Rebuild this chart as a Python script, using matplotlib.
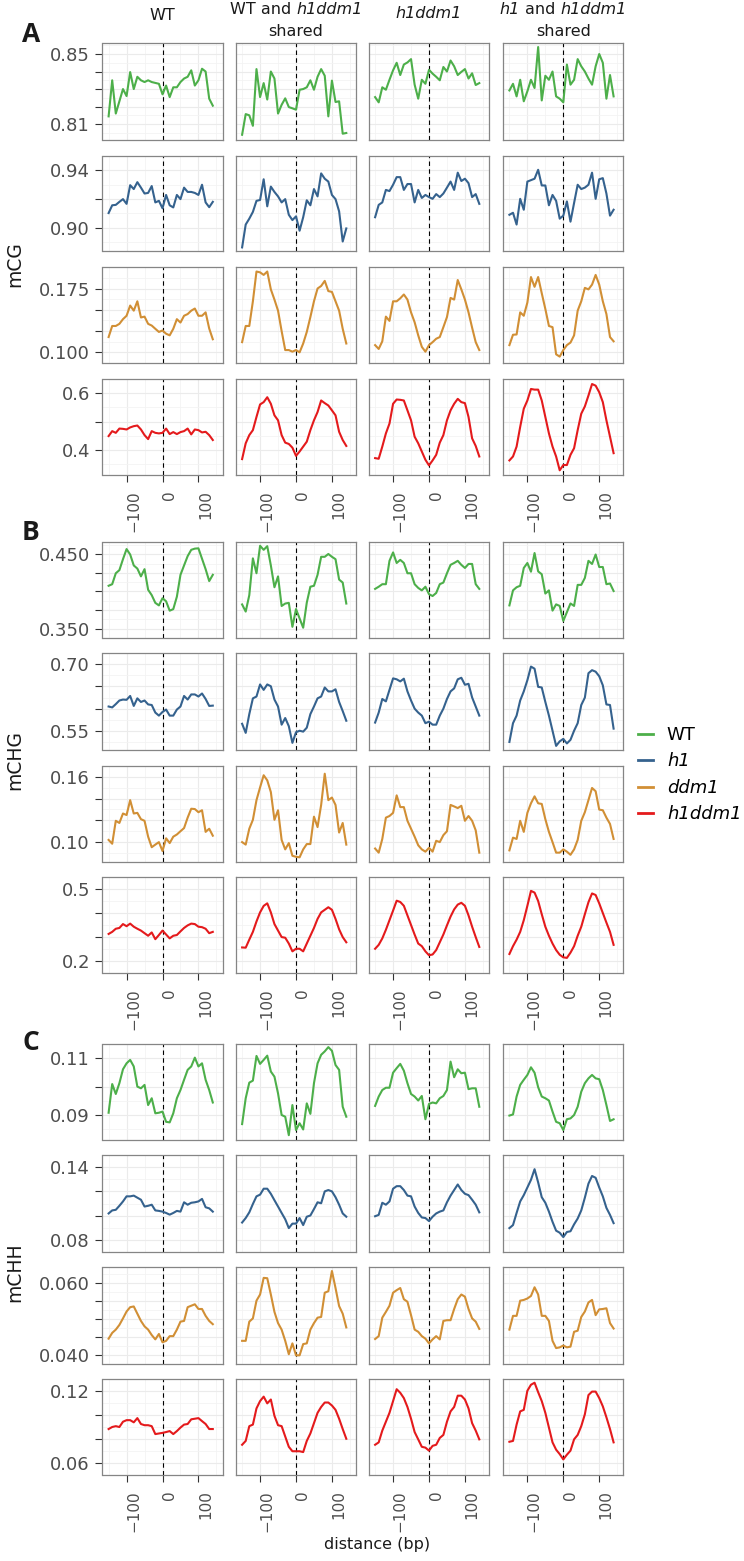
import matplotlib
matplotlib.use("Agg")
import matplotlib.pyplot as plt
import matplotlib.transforms as mtransforms
from matplotlib.lines import Line2D

plt.rcParams["font.family"] = ["DejaVu Sans"]

# ---- data -------------------------------------------------------------
distance = list(range(-150, 150, 10))
tick_pos = [-100, 0, 100]
tick_labels = ["\u2212100", "0", "100"]

genotypes = ["WT", "h1", "ddm1", "h1ddm1"]
colors = ["#4DAF4A", "#35628E", "#D18F35", "#E41A1C"]
contexts = ["mCG", "mCHG", "mCHH"]
panel_letters = ["A", "B", "C"]

# y breaks / labels per (context, genotype) row
y_breaks = {
    ("mCG", "WT"): [0.81, 0.82, 0.83, 0.84, 0.85],
    ("mCG", "h1"): [0.90, 0.92, 0.94],
    ("mCG", "ddm1"): [0.100, 0.125, 0.150, 0.175],
    ("mCG", "h1ddm1"): [0.4, 0.5, 0.6],
    ("mCHG", "WT"): [0.350, 0.375, 0.400, 0.425, 0.450],
    ("mCHG", "h1"): [0.55, 0.60, 0.65, 0.70],
    ("mCHG", "ddm1"): [0.10, 0.12, 0.14, 0.16],
    ("mCHG", "h1ddm1"): [0.2, 0.3, 0.4, 0.5],
    ("mCHH", "WT"): [0.09, 0.10, 0.11],
    ("mCHH", "h1"): [0.08, 0.10, 0.12, 0.14],
    ("mCHH", "ddm1"): [0.040, 0.045, 0.050, 0.055, 0.060],
    ("mCHH", "h1ddm1"): [0.06, 0.08, 0.10, 0.12],
}
y_labels = {
    ("mCG", "WT"): ["0.81", "", "", "", "0.85"],
    ("mCG", "h1"): ["0.90", "", "0.94"],
    ("mCG", "ddm1"): ["0.100", "", "", "0.175"],
    ("mCG", "h1ddm1"): ["0.4", "", "0.6"],
    ("mCHG", "WT"): ["0.350", "", "", "", "0.450"],
    ("mCHG", "h1"): ["0.55", "", "", "0.70"],
    ("mCHG", "ddm1"): ["0.10", "", "", "0.16"],
    ("mCHG", "h1ddm1"): ["0.2", "", "", "0.5"],
    ("mCHH", "WT"): ["0.09", "", "0.11"],
    ("mCHH", "h1"): ["0.08", "", "", "0.14"],
    ("mCHH", "ddm1"): ["0.040", "", "", "", "0.060"],
    ("mCHH", "h1ddm1"): ["0.06", "", "", "0.12"],
}
y_limits = {
    ("mCG", "WT"): (0.8009, 0.8563),
    ("mCG", "h1"): (0.8839, 0.9431),
    ("mCG", "ddm1"): (0.0896, 0.2003),
    ("mCG", "h1ddm1"): (0.313, 0.6486),
    ("mCHG", "WT"): (0.345, 0.4665),
    ("mCHG", "h1"): (0.5075, 0.704),
    ("mCHG", "ddm1"): (0.0817, 0.1652),
    ("mCHG", "h1ddm1"): (0.1935, 0.503),
    ("mCHH", "WT"): (0.0812, 0.1149),
    ("mCHH", "h1"): (0.0795, 0.1413),
    ("mCHH", "ddm1"): (0.0384, 0.0643),
    ("mCHH", "h1ddm1"): (0.0585, 0.1296),
}

# columns: WT, WT & h1ddm1 shared, h1ddm1, h1 & h1ddm1 shared
mCG_WT = [
    [0.8144, 0.835, 0.816, 0.823, 0.830, 0.826, 0.8397, 0.830, 0.837, 0.835, 0.834, 0.835, 0.834, 0.8335, 0.833,
     0.827, 0.832, 0.8254, 0.831, 0.831, 0.834, 0.836, 0.837, 0.8407, 0.832, 0.835, 0.8416, 0.840, 0.8245, 0.8205],
    [0.8039, 0.8157, 0.815, 0.809, 0.8414, 0.8254, 0.8334, 0.824, 0.840, 0.836, 0.816, 0.821, 0.8247, 0.8197, 0.819,
     0.8182, 0.8296, 0.830, 0.831, 0.835, 0.8296, 0.837, 0.8414, 0.8376, 0.8144, 0.8348, 0.8226, 0.823, 0.8045, 0.8049],
    [0.8254, 0.8224, 0.831, 0.8296, 0.8353, 0.8407, 0.845, 0.838, 0.844, 0.8452, 0.8471, 0.8325, 0.8245, 0.8353, 0.833,
     0.841, 0.8388, 0.837, 0.835, 0.8426, 0.840, 0.8463, 0.843, 0.838, 0.8398, 0.8414, 0.836, 0.839, 0.8323, 0.8334],
    [0.8292, 0.833, 0.8258, 0.8353, 0.823, 0.8287, 0.8353, 0.8306, 0.854, 0.8235, 0.8376, 0.8353, 0.840, 0.8258, 0.8245,
     0.8224, 0.844, 0.8325, 0.8353, 0.8471, 0.843, 0.840, 0.836, 0.8325, 0.843, 0.850, 0.845, 0.8245, 0.838, 0.8258],
]
mCG_h1 = [
    [0.9103, 0.9157, 0.916, 0.9181, 0.920, 0.9167, 0.9297, 0.927, 0.9318, 0.928, 0.9239, 0.9243, 0.9291, 0.9177, 0.9188,
     0.9136, 0.9229, 0.9157, 0.9142, 0.9229, 0.920, 0.928, 0.925, 0.925, 0.9243, 0.9229, 0.930, 0.9177, 0.9144, 0.9181],
    [0.8864, 0.9023, 0.9064, 0.9111, 0.9188, 0.9194, 0.9338, 0.915, 0.9287, 0.925, 0.9219, 0.9177, 0.920, 0.9091, 0.9054,
     0.908, 0.898, 0.9074, 0.9192, 0.9157, 0.927, 0.9219, 0.9379, 0.9342, 0.9322, 0.9229, 0.920, 0.9115, 0.8905, 0.8996],
    [0.9074, 0.916, 0.9177, 0.9264, 0.9256, 0.930, 0.9353, 0.9353, 0.9264, 0.9305, 0.9305, 0.9177, 0.9264, 0.9208, 0.9229,
     0.9214, 0.9202, 0.9235, 0.9214, 0.9239, 0.928, 0.9322, 0.9264, 0.9384, 0.9326, 0.9342, 0.9311, 0.9214, 0.9235, 0.9167],
    [0.9091, 0.9105, 0.9023, 0.9202, 0.9126, 0.9322, 0.9332, 0.9342, 0.9404, 0.9295, 0.9295, 0.9157, 0.9229, 0.9188, 0.9064,
     0.9085, 0.9184, 0.9043, 0.9173, 0.930, 0.927, 0.928, 0.930, 0.9384, 0.9202, 0.9338, 0.9346, 0.9239, 0.9085, 0.9126],
]
mCG_ddm1 = [
    [0.118, 0.131, 0.131, 0.1335, 0.139, 0.143, 0.155, 0.149, 0.160, 0.141, 0.142, 0.1335, 0.1315, 0.1277, 0.124,
     0.1257, 0.1219, 0.120, 0.1277, 0.139, 0.135, 0.143, 0.145, 0.149, 0.1515, 0.143, 0.143, 0.147, 0.128, 0.1154],
    [0.112, 0.131, 0.131, 0.160, 0.195, 0.194, 0.191, 0.195, 0.174, 0.162, 0.149, 0.125, 0.1027, 0.1027, 0.1008,
     0.1027, 0.100, 0.1104, 0.124, 0.1415, 0.160, 0.175, 0.178, 0.184, 0.172, 0.171, 0.160, 0.149, 0.1277, 0.1104],
    [0.1085, 0.104, 0.113, 0.142, 0.137, 0.160, 0.160, 0.1635, 0.168, 0.162, 0.147, 0.1354, 0.120, 0.1065, 0.1008,
     0.1085, 0.112, 0.116, 0.118, 0.1296, 0.1415, 0.164, 0.162, 0.185, 0.174, 0.162, 0.147, 0.129, 0.112, 0.1027],
    [0.1085, 0.1207, 0.121, 0.147, 0.143, 0.1585, 0.1885, 0.177, 0.1885, 0.1695, 0.151, 0.131, 0.1296, 0.0977, 0.095,
     0.1027, 0.1085, 0.1115, 0.120, 0.149, 0.160, 0.1758, 0.174, 0.1796, 0.191, 0.1796, 0.160, 0.145, 0.118, 0.113],
]
mCG_h1ddm1 = [
    [0.4497, 0.467, 0.461, 0.476, 0.475, 0.4728, 0.48, 0.4844, 0.4867, 0.4728, 0.453, 0.439, 0.467, 0.461, 0.459,
     0.461, 0.476, 0.4566, 0.4636, 0.4566, 0.4636, 0.467, 0.476, 0.4555, 0.4728, 0.4705, 0.4624, 0.4647, 0.453, 0.4358],
    [0.3688, 0.4243, 0.453, 0.4705, 0.5168, 0.5607, 0.5688, 0.586, 0.563, 0.5225, 0.505, 0.453, 0.4266, 0.422, 0.409,
     0.3803, 0.3954, 0.4127, 0.43, 0.4705, 0.505, 0.534, 0.5746, 0.5653, 0.557, 0.5399, 0.5225, 0.4647, 0.4358, 0.415],
    [0.3723, 0.37, 0.4127, 0.459, 0.4936, 0.563, 0.578, 0.5769, 0.5746, 0.5399, 0.505, 0.4474, 0.4243, 0.3954, 0.3665,
     0.3468, 0.3642, 0.3838, 0.4266, 0.453, 0.505, 0.5399, 0.563, 0.5803, 0.5688, 0.5653, 0.5168, 0.4416, 0.415, 0.378],
    [0.3642, 0.378, 0.4127, 0.482, 0.5457, 0.5746, 0.615, 0.6127, 0.6127, 0.5746, 0.5168, 0.459, 0.4127, 0.378, 0.3295,
     0.348, 0.348, 0.3838, 0.407, 0.4705, 0.5283, 0.5538, 0.5919, 0.6324, 0.6266, 0.6035, 0.5688, 0.505, 0.4474, 0.3896],
]
mCHG_WT = [
    [0.4077, 0.4098, 0.4245, 0.4287, 0.4434, 0.457, 0.4497, 0.435, 0.4308, 0.4203, 0.430, 0.4023, 0.3951, 0.3847, 0.3813,
     0.391, 0.3868, 0.3742, 0.3763, 0.393, 0.4224, 0.435, 0.4475, 0.456, 0.4576, 0.458, 0.444, 0.430, 0.414, 0.4224],
    [0.3826, 0.373, 0.3951, 0.4445, 0.4245, 0.4614, 0.456, 0.4609, 0.435, 0.4057, 0.4203, 0.3805, 0.3838, 0.3847, 0.3525,
     0.3764, 0.3638, 0.3513, 0.385, 0.4064, 0.4077, 0.4224, 0.4466, 0.4466, 0.4504, 0.4466, 0.4434, 0.416, 0.412, 0.3838],
    [0.4035, 0.4064, 0.4098, 0.4098, 0.4412, 0.4525, 0.4383, 0.4425, 0.4383, 0.4245, 0.4245, 0.4098, 0.4048, 0.4015, 0.4064,
     0.3964, 0.3939, 0.398, 0.4098, 0.412, 0.4245, 0.4358, 0.4383, 0.4412, 0.4358, 0.4316, 0.437, 0.437, 0.4098, 0.4035],
    [0.3813, 0.4015, 0.4057, 0.4077, 0.4316, 0.4383, 0.4266, 0.4517, 0.427, 0.4232, 0.3972, 0.4015, 0.3743, 0.3827, 0.3806,
     0.3605, 0.3722, 0.3839, 0.3806, 0.4089, 0.4089, 0.4182, 0.4412, 0.437, 0.4497, 0.4329, 0.4329, 0.4098, 0.4107, 0.4006],
]
mCHG_h1 = [
    [0.605, 0.603, 0.6104, 0.6185, 0.6206, 0.62, 0.6287, 0.6063, 0.6233, 0.6152, 0.6185, 0.6097, 0.6084, 0.5914, 0.5846,
     0.5928, 0.5982, 0.5846, 0.5846, 0.5982, 0.605, 0.6287, 0.6206, 0.6321, 0.6321, 0.6274, 0.6342, 0.6219, 0.6063, 0.607],
    [0.5663, 0.5459, 0.588, 0.6233, 0.6274, 0.6545, 0.6423, 0.6545, 0.6505, 0.6206, 0.605, 0.5643, 0.5792, 0.5609, 0.5235,
     0.5473, 0.5507, 0.5487, 0.5575, 0.588, 0.605, 0.6233, 0.6274, 0.6477, 0.6389, 0.6389, 0.6437, 0.6152, 0.5948, 0.5731],
    [0.569, 0.5914, 0.6219, 0.6165, 0.6423, 0.6681, 0.666, 0.6613, 0.6674, 0.6389, 0.6185, 0.6002, 0.5914, 0.5846, 0.5676,
     0.571, 0.5643, 0.5643, 0.5846, 0.6002, 0.6219, 0.6389, 0.6457, 0.666, 0.6695, 0.6538, 0.6559, 0.6253, 0.605, 0.5846],
    [0.5256, 0.5676, 0.5846, 0.6185, 0.6389, 0.664, 0.6946, 0.6898, 0.6491, 0.6477, 0.6152, 0.5846, 0.5507, 0.5167, 0.5269,
     0.5324, 0.5222, 0.5303, 0.5507, 0.5676, 0.6084, 0.625, 0.6797, 0.6865, 0.6831, 0.6729, 0.6525, 0.6097, 0.6084, 0.5554],
]
mCHG_ddm1 = [
    [0.102, 0.0985, 0.1196, 0.1176, 0.1263, 0.1249, 0.1386, 0.1263, 0.1269, 0.1211, 0.1196, 0.105, 0.0953, 0.0977, 0.100,
     0.0918, 0.1035, 0.0991, 0.105, 0.107, 0.110, 0.1129, 0.1225, 0.1307, 0.1304, 0.1275, 0.1293, 0.1094, 0.1123, 0.1059],
    [0.100, 0.0977, 0.1123, 0.1205, 0.1386, 0.1503, 0.1615, 0.1568, 0.146, 0.1205, 0.1293, 0.102, 0.0933, 0.0991, 0.0874,
     0.0865, 0.086, 0.0933, 0.0982, 0.0982, 0.1234, 0.1138, 0.1342, 0.1629, 0.1386, 0.141, 0.1342, 0.1088, 0.1176, 0.0977],
    [0.0941, 0.0903, 0.1029, 0.1225, 0.124, 0.1269, 0.143, 0.1322, 0.1322, 0.1196, 0.1123, 0.105, 0.0971, 0.0933, 0.0912,
     0.0947, 0.0912, 0.1012, 0.100, 0.1064, 0.110, 0.1342, 0.1328, 0.1313, 0.1334, 0.1196, 0.124, 0.1196, 0.1108, 0.0903],
    [0.0924, 0.1041, 0.1029, 0.1196, 0.1094, 0.1269, 0.1357, 0.1421, 0.1357, 0.1351, 0.1211, 0.1094, 0.100, 0.0903, 0.0903,
     0.0933, 0.0912, 0.0883, 0.0933, 0.102, 0.1196, 0.1275, 0.1386, 0.1498, 0.1468, 0.1299, 0.1293, 0.1225, 0.1167, 0.1029],
]
mCHG_h1ddm1 = [
    [0.3127, 0.3214, 0.3344, 0.3377, 0.3539, 0.345, 0.3558, 0.3429, 0.3344, 0.3267, 0.3159, 0.3052, 0.3191, 0.2909, 0.3083,
     0.3267, 0.3104, 0.2942, 0.3052, 0.3083, 0.3234, 0.3377, 0.3484, 0.3558, 0.3539, 0.3429, 0.341, 0.3344, 0.3159, 0.3214],
    [0.2565, 0.2555, 0.289, 0.3214, 0.3646, 0.4026, 0.4296, 0.4403, 0.4026, 0.3539, 0.3267, 0.2997, 0.297, 0.2727, 0.2402,
     0.251, 0.251, 0.2402, 0.2727, 0.3052, 0.3377, 0.3754, 0.4026, 0.4133, 0.424, 0.4133, 0.3754, 0.332, 0.2997, 0.278],
    [0.251, 0.2673, 0.2942, 0.33, 0.37, 0.41, 0.4513, 0.4459, 0.43, 0.39, 0.35, 0.31, 0.2727, 0.2618, 0.2402,
     0.224, 0.2272, 0.2456, 0.278, 0.3104, 0.3484, 0.385, 0.415, 0.435, 0.4425, 0.43, 0.39, 0.3429, 0.2997, 0.2585],
    [0.2292, 0.2618, 0.289, 0.3214, 0.37, 0.43, 0.4922, 0.485, 0.45, 0.395, 0.3429, 0.3052, 0.2727, 0.2456, 0.226,
     0.2153, 0.213, 0.2348, 0.2618, 0.3052, 0.3429, 0.395, 0.445, 0.4815, 0.475, 0.44, 0.40, 0.36, 0.3214, 0.2673],
]
mCHH_WT = [
    [0.0908, 0.1009, 0.0974, 0.1012, 0.1061, 0.1082, 0.1094, 0.1071, 0.100, 0.0994, 0.1006, 0.0935, 0.0959, 0.0906, 0.0908,
     0.0912, 0.0876, 0.0874, 0.0906, 0.0959, 0.0988, 0.1024, 0.1059, 0.1071, 0.1102, 0.1071, 0.1082, 0.1024, 0.0988, 0.0944],
    [0.0868, 0.0959, 0.1014, 0.1021, 0.1108, 0.108, 0.1094, 0.1109, 0.1053, 0.1035, 0.0976, 0.090, 0.0894, 0.0829, 0.0935,
     0.0847, 0.0871, 0.0849, 0.0941, 0.0904, 0.1012, 0.1082, 0.1112, 0.1124, 0.1139, 0.1126, 0.1076, 0.1059, 0.0929, 0.0894],
    [0.0932, 0.0965, 0.0988, 0.0996, 0.0996, 0.1049, 0.1065, 0.108, 0.1056, 0.1012, 0.0974, 0.0965, 0.0951, 0.0967, 0.0885,
     0.0939, 0.0944, 0.0941, 0.0959, 0.0967, 0.0988, 0.1088, 0.1033, 0.1061, 0.1047, 0.1049, 0.0991, 0.0994, 0.0994, 0.0929],
    [0.0898, 0.0902, 0.0965, 0.1006, 0.1024, 0.1041, 0.1068, 0.1049, 0.0998, 0.0965, 0.0959, 0.0951, 0.0912, 0.0876, 0.0871,
     0.0847, 0.0885, 0.0888, 0.090, 0.0929, 0.0982, 0.1012, 0.1029, 0.1041, 0.1029, 0.1026, 0.0988, 0.0935, 0.0879, 0.0885],
]
mCHH_h1 = [
    [0.1018, 0.1043, 0.1048, 0.1081, 0.1117, 0.1159, 0.1159, 0.1165, 0.1148, 0.1131, 0.1075, 0.1081, 0.109, 0.1043, 0.1039,
     0.1033, 0.1022, 0.1008, 0.1022, 0.1039, 0.1033, 0.111, 0.109, 0.1106, 0.111, 0.1117, 0.1138, 0.1069, 0.106, 0.1033],
    [0.0943, 0.098, 0.1027, 0.1096, 0.1159, 0.1173, 0.1222, 0.1222, 0.118, 0.1127, 0.1075, 0.1022, 0.097, 0.0897, 0.0934,
     0.0934, 0.098, 0.0922, 0.0991, 0.1001, 0.1054, 0.111, 0.1102, 0.12, 0.1211, 0.12, 0.1152, 0.109, 0.1018, 0.0991],
    [0.0995, 0.1006, 0.1106, 0.109, 0.1117, 0.1222, 0.1243, 0.1243, 0.1211, 0.1165, 0.1159, 0.1075, 0.1022, 0.0985, 0.098,
     0.0955, 0.0991, 0.1018, 0.1033, 0.1043, 0.111, 0.1165, 0.1211, 0.1257, 0.1211, 0.118, 0.1169, 0.1131, 0.109, 0.1027],
    [0.0897, 0.0922, 0.1022, 0.1117, 0.1169, 0.1232, 0.1295, 0.1383, 0.1274, 0.1152, 0.1106, 0.1033, 0.0949, 0.0876, 0.0859,
     0.0823, 0.0865, 0.0871, 0.0928, 0.0976, 0.1043, 0.1148, 0.1264, 0.1327, 0.1312, 0.1232, 0.1159, 0.1064, 0.1006, 0.0938],
]
mCHH_ddm1 = [
    [0.0445, 0.0461, 0.047, 0.0483, 0.0501, 0.052, 0.0532, 0.0534, 0.0514, 0.0494, 0.0479, 0.047, 0.0455, 0.0443, 0.0458,
     0.0435, 0.0439, 0.0452, 0.0452, 0.047, 0.0492, 0.0494, 0.0532, 0.0536, 0.054, 0.0527, 0.0527, 0.0508, 0.0494, 0.0485],
    [0.0439, 0.0439, 0.0492, 0.0501, 0.055, 0.0567, 0.0613, 0.0612, 0.0567, 0.0519, 0.0488, 0.047, 0.0439, 0.0402, 0.0432,
     0.0399, 0.0399, 0.043, 0.0432, 0.047, 0.0488, 0.0503, 0.0505, 0.0572, 0.0576, 0.0632, 0.0585, 0.0535, 0.0514, 0.0476],
    [0.0444, 0.0452, 0.0503, 0.0519, 0.0536, 0.0572, 0.0579, 0.0585, 0.0554, 0.0547, 0.051, 0.047, 0.0464, 0.0452, 0.0445,
     0.0432, 0.0443, 0.0452, 0.0443, 0.0494, 0.0496, 0.0496, 0.0527, 0.0554, 0.0567, 0.0561, 0.0527, 0.0501, 0.0492, 0.0472],
    [0.047, 0.0508, 0.0508, 0.055, 0.0552, 0.0556, 0.0563, 0.0587, 0.0567, 0.0508, 0.0508, 0.0494, 0.0439, 0.0419, 0.0421,
     0.0426, 0.0421, 0.0423, 0.0464, 0.0467, 0.0505, 0.052, 0.0545, 0.0552, 0.051, 0.0526, 0.0527, 0.0529, 0.0488, 0.0473],
]
mCHH_h1ddm1 = [
    [0.0883, 0.09, 0.0907, 0.09, 0.0944, 0.0957, 0.0957, 0.0939, 0.0974, 0.0925, 0.0915, 0.0915, 0.0907, 0.0841, 0.0846,
     0.0851, 0.0858, 0.0866, 0.0841, 0.0866, 0.0895, 0.092, 0.0925, 0.0964, 0.0969, 0.0974, 0.0949, 0.0925, 0.0883, 0.0883],
    [0.0752, 0.0784, 0.0907, 0.092, 0.1055, 0.1116, 0.1153, 0.1097, 0.1129, 0.0993, 0.0915, 0.0907, 0.0821, 0.0735, 0.0698,
     0.0698, 0.0698, 0.0691, 0.0784, 0.0846, 0.0932, 0.1018, 0.1067, 0.1104, 0.1104, 0.1079, 0.1043, 0.0969, 0.0883, 0.0802],
    [0.0752, 0.0772, 0.087, 0.0944, 0.1018, 0.1116, 0.1215, 0.1185, 0.1141, 0.1067, 0.0969, 0.0858, 0.0797, 0.0735, 0.0728,
     0.0703, 0.0743, 0.0752, 0.0809, 0.0834, 0.0944, 0.103, 0.1067, 0.1161, 0.1161, 0.1129, 0.1055, 0.0932, 0.087, 0.0797],
    [0.0777, 0.0784, 0.092, 0.103, 0.1043, 0.1202, 0.1252, 0.1269, 0.119, 0.1116, 0.1018, 0.0895, 0.0772, 0.0711, 0.0674,
     0.063, 0.0669, 0.0703, 0.0797, 0.0834, 0.0907, 0.1006, 0.1166, 0.1195, 0.1195, 0.1141, 0.1072, 0.0981, 0.0883, 0.0772],
]

series = {
    "mCG": [mCG_WT, mCG_h1, mCG_ddm1, mCG_h1ddm1],
    "mCHG": [mCHG_WT, mCHG_h1, mCHG_ddm1, mCHG_h1ddm1],
    "mCHH": [mCHH_WT, mCHH_h1, mCHH_ddm1, mCHH_h1ddm1],
}

# column headers: (text, italic?) pieces per line
headers = [
    [[("WT", False)]],
    [[("WT and", False), ("h1ddm1", True)], [("shared", False)]],
    [[("h1ddm1", True)]],
    [[("h1", True), ("and", False), ("h1ddm1", True)], [("shared", False)]],
]

# ---- layout (pixels) ---------------------------------------------------
W, H = 744, 1561
col_left = [102.5, 236.0, 369.0, 503.3]
col_width = 120.0
row_spans = [
    [(43, 140), (156, 251), (267, 363), (379, 475)],
    [(542, 638), (653, 750), (766, 862), (877, 973)],
    [(1044, 1140), (1155, 1252), (1267, 1364), (1379, 1475)],
]

fig = plt.figure(figsize=(W / 100, H / 100), dpi=100)
label_shift = mtransforms.ScaledTranslation(7 / 100, 0, fig.dpi_scale_trans)

for s, ctx in enumerate(contexts):
    for r, geno in enumerate(genotypes):
        top, bottom = row_spans[s][r]
        breaks = y_breaks[(ctx, geno)]
        minors = [(a + b) / 2 for a, b in zip(breaks[:-1], breaks[1:])]
        step = breaks[1] - breaks[0]
        minors = [breaks[0] - step / 2] + minors + [breaks[-1] + step / 2]
        for c in range(4):
            ax = fig.add_axes([col_left[c] / W, 1 - bottom / H,
                               col_width / W, (bottom - top) / H])
            ax.plot(distance, series[ctx][r][c], color=colors[r], lw=1.5,
                    solid_joinstyle="round", zorder=3)
            ax.axvline(0, color="black", lw=0.8, ls=(0, (4, 3)), zorder=2)
            ax.set_xlim(-167, 167)
            ax.set_ylim(*y_limits[(ctx, geno)])
            ax.set_xticks(tick_pos)
            ax.set_xticks([-150, -50, 50, 150], minor=True)
            ax.set_yticks(breaks)
            ax.set_yticks(minors, minor=True)
            ax.grid(which="major", color="#EBEBEB", lw=0.8)
            ax.grid(which="minor", color="#F3F3F3", lw=0.55)
            ax.set_axisbelow(True)
            for sp in ax.spines.values():
                sp.set_color("#858585")
                sp.set_linewidth(0.9)
            ax.tick_params(which="minor", length=0)
            ax.tick_params(which="major", length=5, width=0.8, color="#333333",
                           labelcolor="#4D4D4D")
            ax.tick_params(axis="y", labelsize=13, pad=4)
            ax.tick_params(axis="x", labelsize=11, pad=6)
            if c == 0:
                ax.set_yticklabels(y_labels[(ctx, geno)])
            else:
                ax.tick_params(axis="y", length=0, labelleft=False)
            if r == 3:
                ax.set_xticklabels(tick_labels, rotation=90, va="top", ha="center")
                for lab in ax.get_xticklabels():
                    lab.set_transform(lab.get_transform() + label_shift)
            else:
                ax.tick_params(axis="x", length=0, labelbottom=False)

# column headers, with italic genotype names
renderer = fig.canvas.get_renderer()
hdr = dict(ha="left", va="center", fontsize=11.5, color="#1A1A1A")
probe = fig.text(0, 0, "x x", **hdr)
probe2 = fig.text(0, 0, "xx", **hdr)
space_w = probe.get_window_extent(renderer).width - probe2.get_window_extent(renderer).width
probe.remove()
probe2.remove()

for c, lines in enumerate(headers):
    xc = col_left[c] + col_width / 2
    ys = [16] if len(lines) == 1 and c == 0 else ([14] if len(lines) == 1 else [10, 32])
    for line, y in zip(lines, ys):
        texts = [fig.text(0, 1 - y / H, txt, fontstyle="italic" if it else "normal", **hdr)
                 for txt, it in line]
        widths = [t.get_window_extent(renderer).width for t in texts]
        total = sum(widths) + space_w * (len(texts) - 1)
        x = xc - total / 2
        for t, w in zip(texts, widths):
            t.set_x(x / W)
            x += w + space_w

# section letters and context labels
for letter, y in zip(panel_letters, [34, 532, 1043]):
    fig.text(31 / W, 1 - y / H, letter, ha="center", va="center", fontsize=19,
             fontweight="bold", family=["Open Sans", "DejaVu Sans"], color="#1A1A1A")
for ctx, y in zip(contexts, [264, 760, 1272]):
    fig.text(15 / W, 1 - y / H, ctx, rotation=90, ha="center", va="center",
             fontsize=13.5, color="#1A1A1A")

fig.text(377 / W, 1 - 1545 / H, "distance (bp)", ha="center", va="center",
         fontsize=11.5, color="#1A1A1A")

# legend
handles = [Line2D([], [], color=col, lw=2.0) for col in colors]
leg = fig.legend(handles, genotypes, loc="upper left",
                 bbox_to_anchor=(638 / W, 1 - 726 / H), frameon=False,
                 fontsize=13, handlelength=0.85, handletextpad=0.75,
                 labelspacing=0.47, borderpad=0, borderaxespad=0)
for t in leg.get_texts()[1:]:
    t.set_fontstyle("italic")

fig.savefig("out.png", dpi=100)
